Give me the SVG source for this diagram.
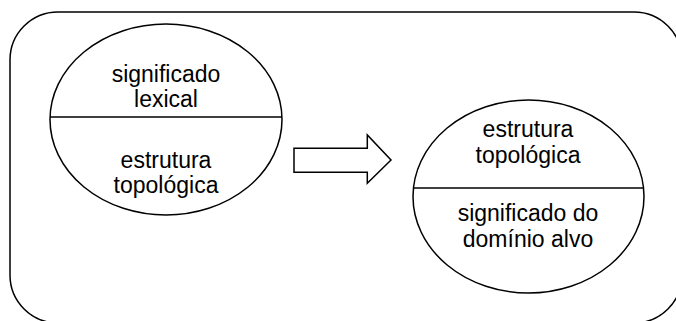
<svg xmlns="http://www.w3.org/2000/svg" width="676" height="321" viewBox="0 0 676 321">
<style>
.s{fill:none;stroke:#000;stroke-width:1.5}
.w{fill:#fff;stroke:#000;stroke-width:1.5}
.t{font-family:"Liberation Sans",Arial,sans-serif;font-size:23px;fill:#000;text-anchor:middle}
</style>
<rect width="676" height="321" fill="#fff"/>
<g id="frame"><rect class="s" x="10" y="12" width="672" height="311" rx="48" ry="48"/></g>
<g id="source">
<ellipse class="w" cx="166" cy="119.5" rx="116" ry="95.5"/>
<line class="s" x1="50" y1="117" x2="282" y2="117"/>
<text class="t" x="166" y="82">significado</text>
<text class="t" x="166" y="107">lexical</text>
<text class="t" x="166" y="168">estrutura</text>
<text class="t" x="166" y="193">topológica</text>
</g>
<g id="target">
<ellipse class="w" cx="528.5" cy="196.5" rx="115.5" ry="96.5"/>
<line class="s" x1="413" y1="188" x2="644" y2="188"/>
<text class="t" x="528" y="137">estrutura</text>
<text class="t" x="528" y="163">topológica</text>
<text class="t" x="528" y="221">significado do</text>
<text class="t" x="528" y="246.5">domínio alvo</text>
</g>
<g id="connectors">
<polygon class="w" points="294,148.3 367.3,148.3 367.3,135 391,160 367.3,183.3 367.3,172.3 294,172.3"/>
</g>
</svg>
